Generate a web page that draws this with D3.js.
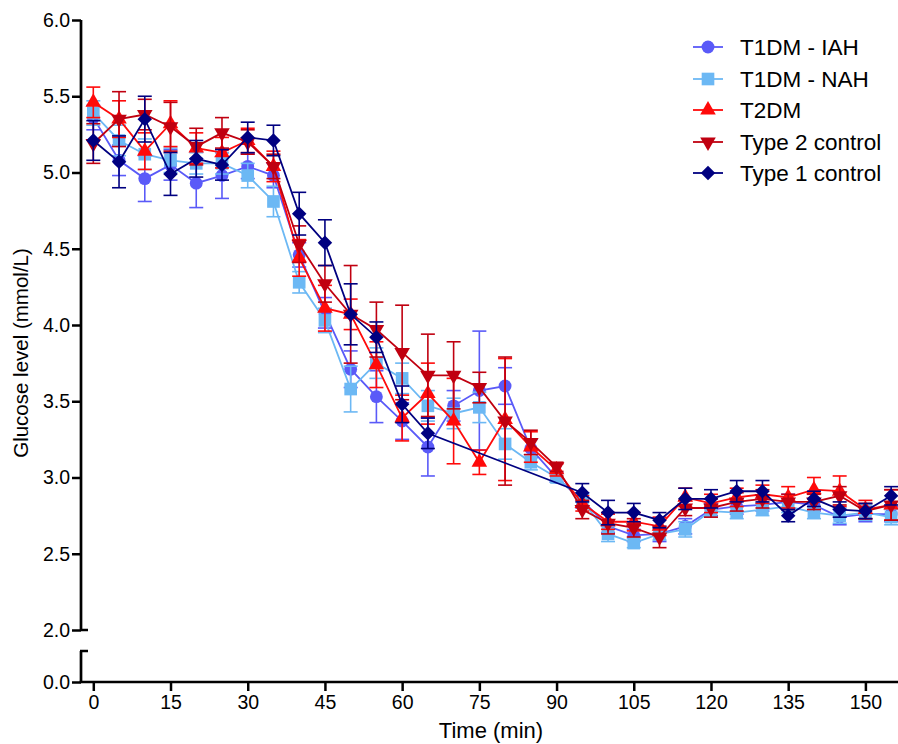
<!DOCTYPE html>
<html>
<head>
<meta charset="utf-8">
<script src="https://cdn.jsdelivr.net/npm/d3@7"></script>
<style>
    body { margin: 0; background: #fff; }
    svg text { font-family: "Liberation Sans", Arial, sans-serif; fill: #000; }
</style>
</head>
<body>
<svg id="vis_svg" width="898" height="744"></svg>
<script>
// time points (min)
let times = [0, 5, 10, 15, 20, 25, 30, 35, 40, 45, 50, 55, 60, 65, 70, 75,
             80, 85, 90, 95, 100, 105, 110, 115, 120, 125, 130, 135, 140, 145, 150, 155];

// means, mmol/L
let iahMean = [5.36, 5.08, 4.96, 5.05, 4.93, 4.98, 5.04, 4.98, 4.46, 4.08, 3.71, 3.53, 3.37, 3.20, 3.47, 3.57,
               3.60, 3.19, 3.00, 2.85, 2.68, 2.62, 2.63, 2.68, 2.79, 2.81, 2.82, 2.84, 2.82, 2.74, 2.76, 2.76];
let nahMean = [5.39, 5.21, 5.12, 5.08, 5.06, 5.06, 4.98, 4.81, 4.28, 4.03, 3.58, 3.75, 3.65, 3.47, 3.42, 3.46,
               3.22, 3.10, 3.00, 2.85, 2.63, 2.57, 2.63, 2.66, 2.78, 2.77, 2.79, 2.81, 2.77, 2.75, 2.77, 2.74];
let t2dmMean = [5.46, 5.35, 5.14, 5.32, 5.16, 5.13, 5.21, 5.04, 4.44, 4.11, 4.07, 3.74, 3.39, 3.55, 3.37, 3.10,
                3.38, 3.20, 3.05, 2.83, 2.71, 2.71, 2.68, 2.87, 2.83, 2.87, 2.89, 2.87, 2.92, 2.91, 2.79, 2.82];
let t2ctlMean = [5.19, 5.35, 5.38, 5.30, 5.17, 5.26, 5.20, 5.04, 4.53, 4.27, 4.07, 3.97, 3.82, 3.67, 3.67, 3.59,
                 3.37, 3.23, 3.07, 2.79, 2.70, 2.67, 2.61, 2.80, 2.80, 2.84, 2.86, 2.84, 2.84, 2.88, 2.78, 2.82];
let t1ctlMean = [5.21, 5.07, 5.35, 4.99, 5.09, 5.05, 5.23, 5.21, 4.73, 4.54, 4.07, 3.92, 3.48, 3.29, null, null,
                 null, null, null, 2.90, 2.77, 2.77, 2.72, 2.86, 2.86, 2.91, 2.91, 2.75, 2.86, 2.79, 2.78, 2.88];

// error bars (SEM)
let iahErr = [0.08, 0.10, 0.15, 0.10, 0.16, 0.15, 0.08, 0.08, 0.08, 0.10, 0.12, 0.17, 0.12, 0.19, 0.10, 0.39,
              0.12, 0.06, 0.03, 0.05, 0.04, 0.04, 0.05, 0.05, 0.04, 0.05, 0.04, 0.05, 0.04, 0.05, 0.05, 0.05];
let nahErr = [0.08, 0.10, 0.10, 0.08, 0.07, 0.07, 0.08, 0.10, 0.07, 0.08, 0.15, 0.10, 0.10, 0.10, 0.10, 0.10,
              0.10, 0.05, 0.03, 0.04, 0.05, 0.03, 0.04, 0.05, 0.04, 0.04, 0.04, 0.04, 0.04, 0.05, 0.05, 0.05];
let t2dmErr = [0.10, 0.12, 0.12, 0.15, 0.10, 0.10, 0.08, 0.10, 0.12, 0.15, 0.10, 0.15, 0.15, 0.20, 0.28, 0.08,
               0.40, 0.10, 0.04, 0.05, 0.05, 0.06, 0.06, 0.06, 0.06, 0.06, 0.06, 0.07, 0.08, 0.10, 0.06, 0.10];
let t2ctlErr = [0.13, 0.18, 0.10, 0.16, 0.12, 0.10, 0.08, 0.08, 0.12, 0.12, 0.32, 0.18, 0.31, 0.27, 0.22, 0.10,
                0.42, 0.08, 0.03, 0.06, 0.07, 0.06, 0.07, 0.05, 0.06, 0.06, 0.06, 0.05, 0.05, 0.06, 0.05, 0.10];
let t1ctlErr = [0.13, 0.17, 0.15, 0.14, 0.12, 0.10, 0.10, 0.10, 0.14, 0.15, 0.20, 0.10, 0.12, 0.10, null, null,
                null, null, null, 0.06, 0.08, 0.06, 0.05, 0.07, 0.06, 0.07, 0.07, 0.04, 0.05, 0.05, 0.05, 0.06];

let seriesNames = ['T1DM - IAH', 'T1DM - NAH', 'T2DM', 'Type 2 control', 'Type 1 control'];
let seriesColors = ['#5a5af8', '#6cb8f4', '#ff0a0a', '#c00010', '#000080'];

let yTicks = [2.0, 2.5, 3.0, 3.5, 4.0, 4.5, 5.0, 5.5, 6.0];
let xTicks = [0, 15, 30, 45, 60, 75, 90, 105, 120, 135, 150];

let svg = d3.select('svg#vis_svg');

let x = d3.scaleLinear().domain([0, 150]).range([93.3, 865.4]);
let y = d3.scaleLinear().domain([2, 6]).range([630, 20]);
let yLow = d3.scaleLinear().domain([0, 0.2]).range([682, 651]);

let axisX = 81;

function translate(a, b) {
    return 'translate(' + String(a) + ',' + String(b) + ')';
}

// symbol generators, per series
let symbolFor = [
    {type: d3.symbolCircle, size: 130, rotate: 0},
    {type: d3.symbolSquare, size: 160, rotate: 0},
    {type: d3.symbolTriangle, size: 105, rotate: 0},
    {type: d3.symbolTriangle, size: 105, rotate: 180},
    {type: d3.symbolSquare, size: 105, rotate: 45}
];

let allSeries = [
    {mean: iahMean, err: iahErr},
    {mean: nahMean, err: nahErr},
    {mean: t2dmMean, err: t2dmErr},
    {mean: t2ctlMean, err: t2ctlErr},
    {mean: t1ctlMean, err: t1ctlErr}
];

// axes
let yAxisG = svg.append('g')
    .attr('transform', translate(axisX, 0))
    .call(d3.axisLeft(y).tickValues(yTicks).tickFormat(d3.format('.1f')).tickSize(9).tickSizeOuter(0).tickPadding(2));
yAxisG.select('.domain').remove();
yAxisG.selectAll('line').attr('stroke', '#000').attr('stroke-width', 2.5);
yAxisG.selectAll('text').style('font-size', '19.5px');

let yLowG = svg.append('g')
    .attr('transform', translate(axisX, 0))
    .call(d3.axisLeft(yLow).tickValues([0]).tickFormat(d3.format('.1f')).tickSize(9).tickSizeOuter(0).tickPadding(2));
yLowG.select('.domain').remove();
yLowG.selectAll('line').attr('stroke', '#000').attr('stroke-width', 2.5);
yLowG.selectAll('text').style('font-size', '19.5px');

// y axis segments with break caps
svg.append('line').attr('x1', axisX).attr('x2', axisX).attr('y1', y(6)).attr('y2', y(2))
    .attr('stroke', '#000').attr('stroke-width', 2.7);
svg.append('line').attr('x1', axisX).attr('x2', axisX + 7).attr('y1', y(2)).attr('y2', y(2))
    .attr('stroke', '#000').attr('stroke-width', 2.5);
svg.append('line').attr('x1', axisX).attr('x2', axisX).attr('y1', yLow(0.2)).attr('y2', yLow(0))
    .attr('stroke', '#000').attr('stroke-width', 2.7);
svg.append('line').attr('x1', axisX - 1).attr('x2', axisX + 7).attr('y1', yLow(0.2)).attr('y2', yLow(0.2))
    .attr('stroke', '#000').attr('stroke-width', 2.5);

let xAxisG = svg.append('g')
    .attr('transform', translate(0, yLow(0)))
    .call(d3.axisBottom(x).tickValues(xTicks).tickSize(9).tickSizeOuter(0).tickPadding(4));
xAxisG.select('.domain').remove();
xAxisG.selectAll('line').attr('stroke', '#000').attr('stroke-width', 2.5);
xAxisG.selectAll('text').style('font-size', '19.5px');
svg.append('line').attr('x1', axisX - 1.3).attr('x2', 898).attr('y1', yLow(0)).attr('y2', yLow(0))
    .attr('stroke', '#000').attr('stroke-width', 2.7);

// axis titles
svg.append('text')
    .attr('x', 491).attr('y', 738)
    .attr('text-anchor', 'middle')
    .style('font-size', '22px')
    .text('Time (min)');
svg.append('text')
    .attr('transform', translate(28, 353) + ' rotate(-90)')
    .attr('text-anchor', 'middle')
    .style('font-size', '20.5px')
    .text('Glucose level (mmol/L)');

// series
let plot = svg.append('g');
let line = d3.line()
    .defined(d => d.v !== null)
    .x(d => x(d.t))
    .y(d => y(d.v));

allSeries.forEach(function(s, i) {
    let pts = times.map((t, j) => ({t: t, v: s.mean[j], e: s.err[j]}));
    let valid = pts.filter(d => d.v !== null);
    let color = seriesColors[i];
    let g = plot.append('g');

    // error bars
    let eb = g.selectAll('g.err').data(valid).enter().append('g');
    eb.append('line')
        .attr('x1', d => x(d.t)).attr('x2', d => x(d.t))
        .attr('y1', d => y(d.v - d.e)).attr('y2', d => y(d.v + d.e))
        .attr('stroke', color).attr('stroke-width', 1.6);
    eb.append('line')
        .attr('x1', d => x(d.t) - 7).attr('x2', d => x(d.t) + 7)
        .attr('y1', d => y(d.v + d.e)).attr('y2', d => y(d.v + d.e))
        .attr('stroke', color).attr('stroke-width', 1.6);
    eb.append('line')
        .attr('x1', d => x(d.t) - 7).attr('x2', d => x(d.t) + 7)
        .attr('y1', d => y(d.v - d.e)).attr('y2', d => y(d.v - d.e))
        .attr('stroke', color).attr('stroke-width', 1.6);

    // connecting line (skips missing points)
    g.append('path')
        .datum(valid)
        .attr('d', line)
        .attr('fill', 'none')
        .attr('stroke', color)
        .attr('stroke-width', 1.8);

    let sym = symbolFor[i];
    g.selectAll('path.pt').data(valid).enter().append('path')
        .attr('class', 'pt')
        .attr('d', d3.symbol().type(sym.type).size(sym.size))
        .attr('transform', d => translate(x(d.t), y(d.v)) + ' rotate(' + sym.rotate + ')')
        .attr('fill', color);
});

// legend
let legend = svg.append('g');
let legendRows = [47, 79, 110, 142, 173];
seriesNames.forEach(function(name, i) {
    let row = legend.append('g').attr('transform', translate(0, legendRows[i]));
    row.append('line').attr('x1', 693).attr('x2', 723).attr('y1', 0).attr('y2', 0)
        .attr('stroke', seriesColors[i]).attr('stroke-width', 1.8);
    let sym = symbolFor[i];
    row.append('path')
        .attr('d', d3.symbol().type(sym.type).size(sym.size))
        .attr('transform', translate(708, 0) + ' rotate(' + sym.rotate + ')')
        .attr('fill', seriesColors[i]);
    row.append('text')
        .attr('x', 740).attr('y', 8)
        .style('font-size', '22.5px')
        .text(name);
});
</script>
</body>
</html>
